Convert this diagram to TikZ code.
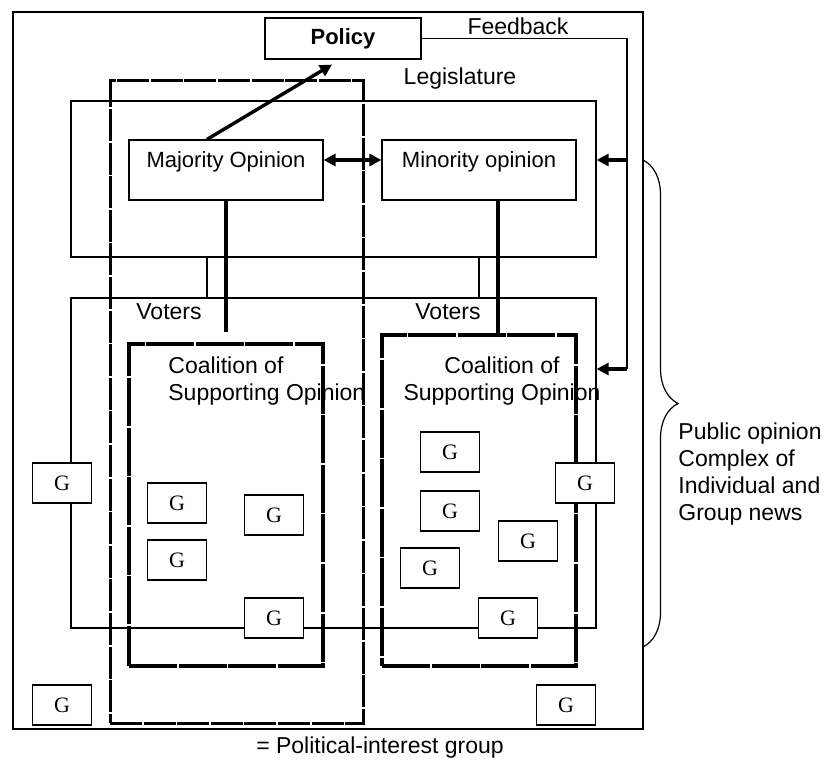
\documentclass[tikz,border=0pt]{standalone}
\usepackage{fontspec}
\setmainfont{Liberation Sans}
\newfontfamily\gfont{Liberation Serif}
\usepackage{tikz}
\usetikzlibrary{arrows.meta,decorations.pathreplacing}
\tikzset{>/.tip={Triangle[length=6pt,width=6pt]}}
\tikzset{
  box/.style={draw, line width=0.6pt, inner sep=0pt},
  opinion/.style={box, minimum width=97pt, minimum height=30pt, text height=8pt, text depth=10pt},
  coalition/.style={draw, line width=1.6pt, dash pattern=on 24pt off 0.8pt, inner sep=0pt, minimum width=97pt},
  gbox/.style={box, fill=white, minimum width=29.5pt, minimum height=20pt, font=\gfont\fontsize{11}{13}\selectfont},
  txt/.style={inner sep=0pt, font=\fontsize{11.5}{13.5}\selectfont},
  heavy/.style={line width=1.7pt}
}

\begin{document}
\begin{tikzpicture}[x=0.5pt, y=-0.5pt]
\useasboundingbox (0,0) rectangle (828,763);
\node[box, minimum width=315pt, minimum height=358.5pt] (frame) at (328,370.5) {};
\node[box, minimum width=262.5pt, minimum height=78pt] (leg) at (333.5,179) {};
\node[box, minimum width=262.5pt, minimum height=165pt] (vot) at (333.5,463) {};
\node[draw, line width=1.5pt, dash pattern=on 16pt off 0.8pt, inner sep=0pt,
      minimum width=126.5pt, minimum height=321pt] (party) at (236.5,402) {};
\node[coalition, minimum height=161pt] (coalL) at (226,505) {};
\node[coalition, minimum height=165.5pt] (coalR) at (479,500.5) {};

\node[box, minimum width=78pt, minimum height=20.5pt,
      font=\bfseries\fontsize{11}{13}\selectfont] (policy) at (343,38.5) {Policy};
\node[opinion, font=\fontsize{11}{13}\selectfont] (maj) at (226,170) {Majority Opinion};
\node[opinion, font=\fontsize{11}{13}\selectfont] (mino) at (479,170) {Minority opinion};

\node[txt] (legtxt) at (460,79) {Legislature};
\node[txt] (fbtxt) at (518,26) {Feedback};
\node[txt] (votL) at (169,312) {Voters};
\node[txt] (votR) at (448,312) {Voters};
\node[txt, align=left, anchor=west] (coalLtxt) at (168,381) {Coalition of\\Supporting Opinion};
\node[txt, align=center] (coalRtxt) at (502,381) {Coalition of\\Supporting Opinion};
\node[txt, align=left, anchor=west] (pubtxt) at (678,474) {Public opinion\\Complex of\\Individual and\\Group news};
\node[txt] (legend) at (380,748) {= Political-interest group};

% feedback loop
\coordinate (fbc) at (627,38.5);
\coordinate (fb1) at (627,160);
\coordinate (fb2) at (627,369);
\draw[line width=0.6pt] (policy.east) -- (fbc) -- (fb2);
\draw[heavy, ->] (fb1) -- (fb1 -| leg.east);
\draw[heavy, ->] (fb2) -- (fb2 -| vot.east);

% legislature
\draw[heavy, ->] ([xshift=-9.5pt]maj.north) -- ([xshift=-5.5pt,yshift=-2.5pt]policy.south);
\draw[heavy, <->] ([yshift=5pt]maj.east) -- ([yshift=5pt]mino.west);
\draw[line width=0.6pt] ([xshift=-63.25pt]leg.south) -- ([xshift=-63.25pt]vot.north);
\draw[line width=0.6pt] (mino.south |- leg.south) -- (mino.south |- vot.north);
\coordinate (majend) at (226,332);
\draw[heavy] (maj.south) -- (majend);
\draw[heavy] ([xshift=9.5pt]mino.south) -- ([xshift=9.5pt]coalR.north);

% public opinion
\coordinate (brT) at (643,160);
\coordinate (brB) at (643,647);
\draw[line width=0.6pt, decorate, decoration={brace, amplitude=17.5pt}] (brT) -- (brB);

% interest groups
\foreach \gx/\gy [count=\k] in {62/483, 177/503, 274/515, 177/560, 274/618, 62/705,
    450/452, 450/511, 528/541, 430/568, 585/483, 508/618, 566/705}
  \node[gbox] (g\k) at (\gx,\gy) {G};
\end{tikzpicture}
\end{document}
